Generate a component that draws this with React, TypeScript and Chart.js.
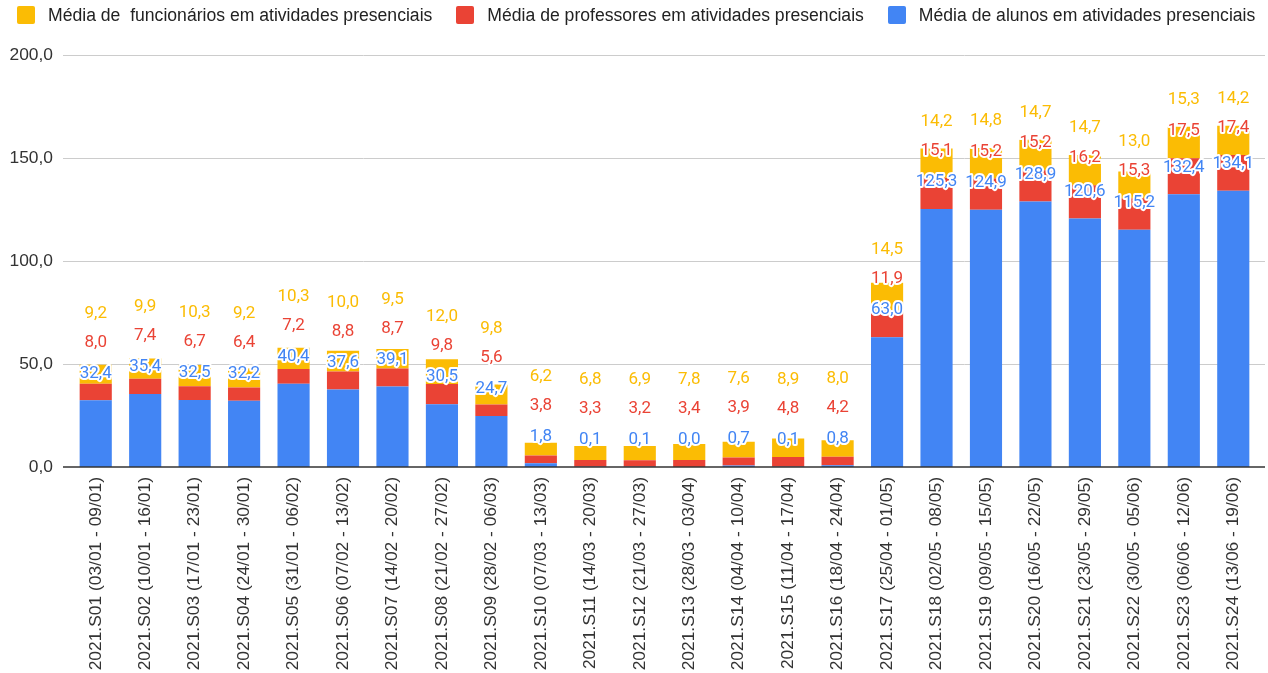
import React, { useEffect, useRef } from "react";
import { Chart, registerables } from "chart.js";

Chart.register(...registerables);

const categories = [
  "2021.S01 (03/01 - 09/01)",
  "2021.S02 (10/01 - 16/01)",
  "2021.S03 (17/01 - 23/01)",
  "2021.S04 (24/01 - 30/01)",
  "2021.S05 (31/01 - 06/02)",
  "2021.S06 (07/02 - 13/02)",
  "2021.S07 (14/02 - 20/02)",
  "2021.S08 (21/02 - 27/02)",
  "2021.S09 (28/02 - 06/03)",
  "2021.S10 (07/03 - 13/03)",
  "2021.S11 (14/03 - 20/03)",
  "2021.S12 (21/03 - 27/03)",
  "2021.S13 (28/03 - 03/04)",
  "2021.S14 (04/04 - 10/04)",
  "2021.S15 (11/04 - 17/04)",
  "2021.S16 (18/04 - 24/04)",
  "2021.S17 (25/04 - 01/05)",
  "2021.S18 (02/05 - 08/05)",
  "2021.S19 (09/05 - 15/05)",
  "2021.S20 (16/05 - 22/05)",
  "2021.S21 (23/05 - 29/05)",
  "2021.S22 (30/05 - 05/06)",
  "2021.S23 (06/06 - 12/06)",
  "2021.S24 (13/06 - 19/06)",
];

const alunos = [
  32.4, 35.4, 32.5, 32.2, 40.4, 37.6, 39.1, 30.5, 24.7, 1.8, 0.1, 0.1, 0.0, 0.7,
  0.1, 0.8, 63.0, 125.3, 124.9, 128.9, 120.6, 115.2, 132.4, 134.1,
];
const professores = [
  8.0, 7.4, 6.7, 6.4, 7.2, 8.8, 8.7, 9.8, 5.6, 3.8, 3.3, 3.2, 3.4, 3.9, 4.8, 4.2,
  11.9, 15.1, 15.2, 15.2, 16.2, 15.3, 17.5, 17.4,
];
const funcionarios = [
  9.2, 9.9, 10.3, 9.2, 10.3, 10.0, 9.5, 12.0, 9.8, 6.2, 6.8, 6.9, 7.8, 7.6, 8.9,
  8.0, 14.5, 14.2, 14.8, 14.7, 14.7, 13.0, 15.3, 14.2,
];

const yTicks = [0, 50, 100, 150, 200];

const seriesNames = {
  funcionarios: "Média de  funcionários em atividades presenciais",
  professores: "Média de professores em atividades presenciais",
  alunos: "Média de alunos em atividades presenciais",
};

const BLUE = "#4285F4";
const RED = "#EA4335";
const YELLOW = "#FBBC04";

const fmt = (v: number) => v.toFixed(1).replace(".", ",");

const gridPlugin = {
  id: "customGrid",
  beforeDatasetsDraw(chart: any) {
    const { ctx, chartArea, scales } = chart;
    const y = scales.y;
    ctx.save();
    ctx.strokeStyle = "#cccccc";
    ctx.lineWidth = 1;
    yTicks.forEach((v) => {
      if (v === 0) return;
      const py = Math.round(y.getPixelForValue(v)) + 0.5;
      ctx.beginPath();
      ctx.moveTo(chartArea.left - 8, py);
      ctx.lineTo(chartArea.right + 7, py);
      ctx.stroke();
    });
    ctx.restore();
  },
  afterDatasetsDraw(chart: any) {
    const { ctx, chartArea, scales } = chart;
    const y = scales.y;
    ctx.save();
    ctx.strokeStyle = "#333333";
    ctx.lineWidth = 1.5;
    const py = y.getPixelForValue(0);
    ctx.beginPath();
    ctx.moveTo(chartArea.left - 8, py);
    ctx.lineTo(chartArea.right + 7, py);
    ctx.stroke();
    ctx.restore();
  },
};

const labelPlugin = {
  id: "stackLabels",
  afterDraw(chart: any) {
    const { ctx, scales } = chart;
    const x = scales.x;
    const y = scales.y;
    ctx.save();
    ctx.font = "17px Roboto";
    ctx.textAlign = "center";
    ctx.textBaseline = "middle";
    ctx.lineJoin = "round";
    const draw = (text: string, px: number, py: number, color: string) => {
      ctx.strokeStyle = "#ffffff";
      ctx.lineWidth = 4;
      ctx.strokeText(text, px, py);
      ctx.fillStyle = color;
      ctx.fillText(text, px, py);
    };
    categories.forEach((_, i) => {
      const px = x.getPixelForValue(i);
      const a = alunos[i];
      const p = professores[i];
      const f = funcionarios[i];
      const blueTop = y.getPixelForValue(a);
      const redTop = y.getPixelForValue(a + p);
      const yellowTop = y.getPixelForValue(a + p + f);
      const by = blueTop - 27;
      const ry = Math.min(redTop - 27, by - 31);
      const yy = Math.min(yellowTop - 27, ry - 29);
      draw(fmt(a), px, by, BLUE);
      draw(fmt(p), px, ry, RED);
      draw(fmt(f), px, yy, YELLOW);
    });
    ctx.restore();
  },
};

const AXIS_FONT = { family: "'Liberation Sans', Arial, sans-serif", size: 17.4 };

export default function App() {
  const canvasRef = useRef<HTMLCanvasElement | null>(null);

  useEffect(() => {
    document.body.style.margin = "0";
    const canvas = canvasRef.current;
    if (!canvas) return;
    const chart = new Chart(canvas, {
      type: "bar",
      data: {
        labels: categories,
        datasets: [
          { label: seriesNames.alunos, data: alunos, backgroundColor: BLUE },
          { label: seriesNames.professores, data: professores, backgroundColor: RED },
          { label: seriesNames.funcionarios, data: funcionarios, backgroundColor: YELLOW },
        ],
      },
      options: {
        responsive: false,
        animation: false,
        devicePixelRatio: 1,
        layout: { padding: { top: 55, right: 10, left: 0, bottom: 0 } },
        datasets: {
          bar: { categoryPercentage: 1, barPercentage: 0.65 },
        },
        plugins: {
          legend: { display: false },
          tooltip: { enabled: false },
        },
        scales: {
          x: {
            stacked: true,
            grid: { display: false, drawTicks: false },
            border: { display: false },
            ticks: {
              autoSkip: false,
              minRotation: 90,
              maxRotation: 90,
              padding: 10,
              color: "#333333",
              font: AXIS_FONT,
            },
            afterFit: (s: any) => {
              s.height = 206;
            },
          },
          y: {
            stacked: true,
            min: 0,
            max: 200,
            grid: { display: false, drawTicks: false },
            border: { display: false },
            ticks: {
              stepSize: 50,
              padding: 18,
              color: "#333333",
              font: AXIS_FONT,
              callback: (v: any) => fmt(Number(v)),
            },
            afterFit: (s: any) => {
              s.width = 71;
            },
          },
        },
      } as any,
      plugins: [gridPlugin, labelPlugin],
    });
    return () => chart.destroy();
  }, []);

  const legendItems = [
    { name: seriesNames.funcionarios, color: YELLOW },
    { name: seriesNames.professores, color: RED },
    { name: seriesNames.alunos, color: BLUE },
  ];

  return (
    <div
      style={{
        position: "fixed",
        left: 0,
        top: 0,
        width: 1268,
        height: 673,
        background: "#ffffff",
        overflow: "hidden",
      }}
    >
      <canvas ref={canvasRef} width={1268} height={673} style={{ display: "block" }} />
      <div
        style={{
          position: "absolute",
          left: 17,
          top: 6,
          display: "flex",
          alignItems: "center",
          fontFamily: "'Liberation Sans', Arial, sans-serif",
          fontSize: 17.6,
          color: "#222222",
          whiteSpace: "pre",
          lineHeight: "18px",
        }}
      >
        {legendItems.map((it, i) => (
          <div
            key={i}
            style={{ display: "flex", alignItems: "center", marginRight: i < 2 ? 24 : 0 }}
          >
            <span
              style={{
                display: "inline-block",
                width: 18,
                height: 18,
                borderRadius: 2,
                background: it.color,
                marginRight: 13,
              }}
            />
            <span>{it.name}</span>
          </div>
        ))}
      </div>
    </div>
  );
}
